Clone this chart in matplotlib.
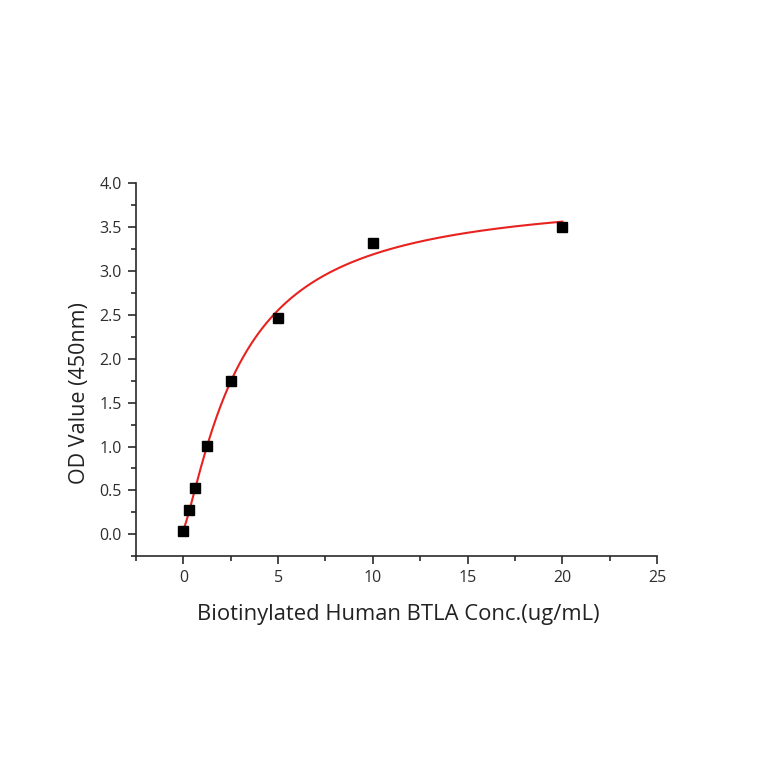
import numpy as np
import matplotlib
matplotlib.use("Agg")
import matplotlib.pyplot as plt
from matplotlib.ticker import MultipleLocator

conc = [0.0, 0.3125, 0.625, 1.25, 2.5, 5.0, 10.0, 20.0]
od = [0.04, 0.28, 0.53, 1.01, 1.75, 2.47, 3.32, 3.50]
x_ticks = [0, 5, 10, 15, 20, 25]
y_ticks = [0.0, 0.5, 1.0, 1.5, 2.0, 2.5, 3.0, 3.5, 4.0]

x = np.array(conc)
y = np.array(od)


def model(p, xx):
    a, d, c, b = p
    xx = np.maximum(xx, 1e-12)
    return d + (a - d) / (1.0 + (xx / c) ** b)


# Levenberg-Marquardt fit of a 4-parameter logistic
p = np.array([0.0, 4.0, 3.0, 1.2])
lam = 1e-2
for _ in range(500):
    r = y - model(p, x)
    J = np.zeros((len(x), 4))
    for i in range(4):
        dp = np.zeros(4)
        dp[i] = 1e-6 * max(1.0, abs(p[i]))
        J[:, i] = (model(p + dp, x) - model(p - dp, x)) / (2 * dp[i])
    A = J.T @ J
    g = J.T @ r
    step = np.linalg.solve(A + lam * np.diag(np.diag(A) + 1e-9), g)
    pn = p + step
    if pn[2] > 0 and np.sum((y - model(pn, x)) ** 2) < np.sum(r ** 2):
        p = pn
        lam *= 0.5
    else:
        lam *= 3.0

xf = np.linspace(0, 20, 400)
yf = model(p, xf)

fig = plt.figure(figsize=(7.64, 7.64), dpi=100)
ax = fig.add_axes([0.178, 0.272, 0.682, 0.488])
ax.plot(xf, yf, color="#e8231f", lw=1.5, zorder=2)
ax.plot(conc, od, "s", color="black", ms=6.8, zorder=3, clip_on=False)

ax.set_xlim(-2.5, 25)
ax.set_ylim(-0.25, 4.0)
ax.set_xticks(x_ticks)
ax.set_yticks(y_ticks)
ax.set_yticklabels([f"{v:.1f}" for v in y_ticks])
ax.xaxis.set_minor_locator(MultipleLocator(2.5))
ax.yaxis.set_minor_locator(MultipleLocator(0.25))

for s in ["top", "right"]:
    ax.spines[s].set_visible(False)
for s in ["left", "bottom"]:
    ax.spines[s].set_linewidth(1.2)
    ax.spines[s].set_color("#2a2a2a")

ax.tick_params(which="major", direction="out", length=6, width=1.2, color="#2a2a2a",
               labelsize=11.5, labelcolor="#2e2e2e", pad=4)
ax.tick_params(which="minor", direction="out", length=3.5, width=1.2, color="#2a2a2a")
for lab in ax.get_xticklabels() + ax.get_yticklabels():
    lab.set_fontfamily("Open Sans")

ax.set_xlabel("Biotinylated Human BTLA Conc.(ug/mL)", fontsize=15.8, family="Open Sans",
              color="#222222")
ax.xaxis.set_label_coords(0.503, -0.128)
ax.set_ylabel("OD Value (450nm)", fontsize=15.5, family="Open Sans", color="#222222")
ax.yaxis.set_label_coords(-0.089, 0.437)

fig.savefig("out.png", dpi=100, facecolor="white")
